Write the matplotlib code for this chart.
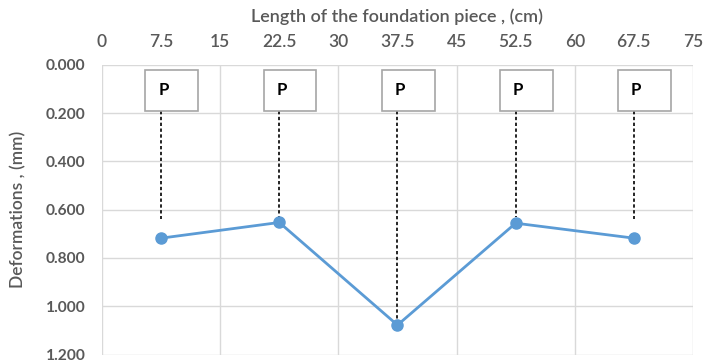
import matplotlib
matplotlib.use("Agg")
import matplotlib.pyplot as plt
from matplotlib.ticker import FixedLocator, FuncFormatter
from matplotlib.patches import Rectangle

plt.rcParams['font.family'] = ['Lato', 'DejaVu Sans']

# Data
positions = [7.5, 22.5, 37.5, 52.5, 67.5]
deformations = [0.718, 0.653, 1.078, 0.656, 0.718]
load_labels = ['P', 'P', 'P', 'P', 'P']
dash_ends = [0.64, 0.64, 1.06, 0.63, 0.64]
x_ticks = [0, 7.5, 15, 22.5, 30, 37.5, 45, 52.5, 60, 67.5, 75]
y_ticks = [0.0, 0.2, 0.4, 0.6, 0.8, 1.0, 1.2]

gray = '#595959'
fig = plt.figure(figsize=(7.06, 3.64), dpi=100)
ax = fig.add_axes([0.1445, 0.026, 0.837, 0.796])

ax.set_xlim(0, 75)
ax.set_ylim(1.2, 0.0)

# grid
major_x = [t for t in x_ticks if t % 15 == 0]
minor_x = [t for t in x_ticks if t % 15 != 0]
ax.xaxis.set_major_locator(FixedLocator(major_x))
ax.xaxis.set_minor_locator(FixedLocator(minor_x))
ax.yaxis.set_major_locator(FixedLocator(y_ticks))
fmt_x = FuncFormatter(lambda v, p: ('%g' % v))
ax.xaxis.set_major_formatter(fmt_x)
ax.xaxis.set_minor_formatter(fmt_x)
ax.yaxis.set_major_formatter(FuncFormatter(lambda v, p: '%.3f' % v))
ax.grid(True, which='major', color='#d9d9d9', linewidth=1.0)
ax.set_axisbelow(True)
ax.xaxis.tick_top()
ax.xaxis.set_label_position('top')
ax.tick_params(axis='x', which='both', length=0, pad=11, labelsize=12.5, labelcolor=gray)
ax.tick_params(axis='y', length=0, pad=12, labelsize=11.2, labelcolor=gray)
for lab in ax.get_xticklabels(which='both'):
    lab.set_fontweight('semibold')
for lab in ax.get_yticklabels():
    lab.set_fontweight('bold')
for s in ax.spines.values():
    s.set_visible(False)

ax.set_xlabel('Length of the foundation piece , (cm)', fontsize=13, color=gray,
              labelpad=8, fontweight='semibold')
ax.set_ylabel('Deformations , (mm)', fontsize=12.5, color=gray, labelpad=14,
              fontweight='semibold')

# load boxes and dashed lines
for x, lab, de in zip(positions, load_labels, dash_ends):
    ax.add_patch(Rectangle((x - 2.0, 0.02), 6.7, 0.17, facecolor='white',
                           edgecolor='#a6a6a6', linewidth=1.2, zorder=3))
    ax.text(x + 0.3, 0.105, lab, ha='center', va='center', fontsize=12,
            fontweight='bold', color='black', zorder=4)
    ax.plot([x, x], [0.19, de], color='black', linestyle=(0, (2, 1.5)),
            linewidth=1.2, zorder=2)

ax.plot(positions, deformations, color='#5b9bd5', linewidth=2,
        marker='o', markersize=8, zorder=5)

fig.savefig('out.png', dpi=100)
